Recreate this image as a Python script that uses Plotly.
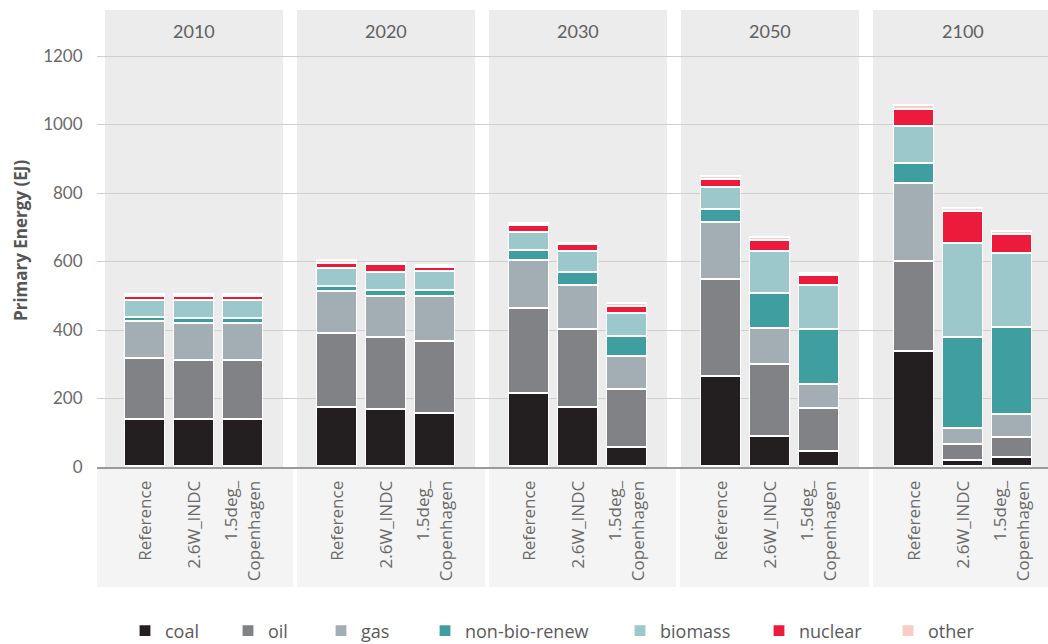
import plotly.graph_objects as go

W, H = 1048, 644

years = ["2010", "2020", "2030", "2050", "2100"]
scenarios = ["Reference", "2.6W_INDC", "1.5deg_<br>Copenhagen"]
series_names = ["coal", "oil", "gas", "non-bio-renew", "biomass", "nuclear", "other"]

# values per series: for each year, [Reference, 2.6W_INDC, 1.5deg_Copenhagen]
coal = [[137, 137, 137], [173, 168, 157], [215, 173, 56], [264, 88, 45], [337, 20, 27]]
oil = [[180, 173, 173], [217, 211, 209], [248, 229, 169], [282, 210, 126], [262, 46, 59]]
gas = [[107, 109, 109], [122, 118, 131], [141, 129, 97], [167, 107, 71], [229, 47, 66]]
non_bio_renew = [[13, 15, 15], [14, 18, 18], [28, 37, 60], [39, 100, 160], [59, 265, 256]]
biomass = [[48, 52, 52], [54, 53, 55], [52, 61, 67], [65, 124, 128], [107, 275, 216]]
nuclear = [[14, 13, 13], [15, 22, 13], [20, 19, 19], [21, 32, 28], [51, 94, 56]]
other = [[5, 5, 5], [7, 3, 4], [7, 5, 8], [10, 10, 7], [10, 8, 7]]

series_values = [coal, oil, gas, non_bio_renew, biomass, nuclear, other]
colors = ["#231f20", "#808285", "#a2aeb3", "#3f9fa0", "#9cc8cb", "#ec1b3b", "#f9cdc3"]

y_ticks = [0, 200, 400, 600, 800, 1000, 1200]

# layout geometry (pixels)
panels_px = [(105, 283), (297, 475), (489, 667), (681, 859), (873, 1048)]
lower_px = [(97, 293), (297, 485), (489, 676), (680, 869), (873, 1048)]
legend_px = [137, 240, 333, 437, 632, 771, 900]
y0_px, ytop_px, ymax = 467, 52.6, 1210
bar_px_unit = 49.0


def px(x):
    return min(max(x / W, 0.0), 1.0)


def py(y):
    return min(max((H - y) / H, 0.0), 1.0)


fig = go.Figure()

# background axis (draws the full-width grid)
fig.add_trace(go.Scatter(x=[0], y=[0], mode="lines", line=dict(width=0),
                         showlegend=False, hoverinfo="skip", xaxis="x", yaxis="y"))

layout_axes = {}
layout_axes["xaxis"] = dict(domain=[px(97), 1.0], range=[0, 1], showgrid=False, zeroline=False,
                            showticklabels=False, showline=True, linecolor="#9b9b9b", linewidth=1.5,
                            anchor="y", fixedrange=True)
layout_axes["yaxis"] = dict(domain=[py(y0_px), py(ytop_px)], range=[0, ymax], tickvals=y_ticks,
                            showgrid=True, gridcolor="#cfcfcf", gridwidth=1.2, zeroline=False,
                            ticks="outside", ticklen=10, tickcolor="rgba(0,0,0,0)",
                            tickfont=dict(family="Lato", size=17, color="#6a6a6a"),
                            anchor="x", showline=False, fixedrange=True)

for p, yr in enumerate(years):
    ax = p + 2
    xname = f"x{ax}"
    left, right = panels_px[p]
    width_units = (right - left) / bar_px_unit
    if p < 4:
        r0 = 1 - width_units / 2
    else:
        r0 = 1 - (963 - left) / bar_px_unit
    layout_axes[f"xaxis{ax}"] = dict(domain=[px(left), px(right)], range=[r0, r0 + width_units],
                                     anchor="y", showgrid=False, zeroline=False, showline=False,
                                     tickangle=-90, ticks="outside", ticklen=6,
                                     tickcolor="rgba(0,0,0,0)",
                                     tickfont=dict(family="Open Sans", size=17, color="#6a6a6a"),
                                     fixedrange=True)
    for s, name in enumerate(series_names):
        fig.add_trace(go.Bar(
            x=scenarios, y=series_values[s][p], name=name,
            marker=dict(color=colors[s], line=dict(color="white", width=1.2)),
            width=0.82, xaxis=xname, yaxis="y",
            legend="legend" if s == 0 else f"legend{s + 1}",
            legendgroup=name, showlegend=(p == 0),
        ))

shapes = []
for (l, r) in panels_px:
    shapes.append(dict(type="rect", xref="paper", yref="paper", x0=px(l), x1=px(r),
                       y0=py(y0_px), y1=py(10), fillcolor="#ececec", line=dict(width=0),
                       layer="below"))
for (l, r) in lower_px:
    shapes.append(dict(type="rect", xref="paper", yref="paper", x0=px(l), x1=px(r),
                       y0=py(587), y1=py(y0_px), fillcolor="#f4f4f4", line=dict(width=0),
                       layer="below"))

annotations = []
for p, yr in enumerate(years):
    l, r = panels_px[p]
    c = (l + r) / 2 if p < 4 else 963
    annotations.append(dict(text=yr, x=px(c), y=py(31), xref="paper", yref="paper",
                            xanchor="center", yanchor="middle",
                            showarrow=False, font=dict(family="Lato", size=18, color="#606060")))
annotations.append(dict(text="<b>Primary Energy (EJ)</b>", x=px(20), y=py(241), xref="paper",
                        yref="paper", showarrow=False, textangle=-90,
                        xanchor="center", yanchor="middle",
                        font=dict(family="Open Sans", size=17, color="#555555")))

legends = {}
for s, name in enumerate(series_names):
    key = "legend" if s == 0 else f"legend{s + 1}"
    legends[key] = dict(orientation="h", x=px(legend_px[s] - 12), y=py(631),
                        xanchor="left", yanchor="middle", bgcolor="rgba(0,0,0,0)",
                        font=dict(family="Open Sans", size=18, color="#5a5a5a"),
                        itemwidth=30)

fig.update_layout(
    width=W, height=H,
    margin=dict(l=0, r=0, t=0, b=0, autoexpand=False),
    paper_bgcolor="white", plot_bgcolor="rgba(0,0,0,0)",
    barmode="stack", bargap=0.0,
    shapes=shapes, annotations=annotations,
    showlegend=True,
    **legends,
    **layout_axes,
)

fig.write_html(
    "out.html",
    config={"displayModeBar": False},
    post_script=(
        "document.documentElement.style.margin='0';"
        "document.body.style.margin='0';"
    ),
)
